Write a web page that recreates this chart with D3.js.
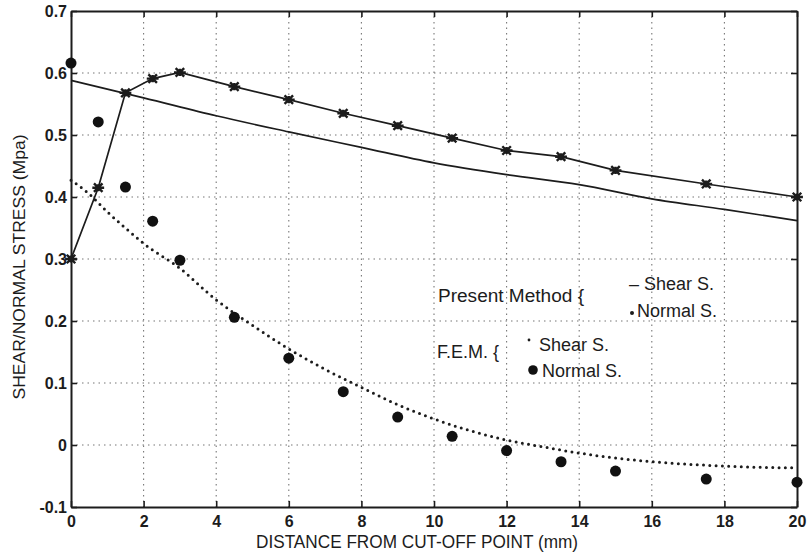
<!DOCTYPE html>
<html>
<head>
<meta charset="utf-8">
<script src="https://cdn.jsdelivr.net/npm/d3@7"></script>
<style>
  body { margin: 0; background: #fff; }
  text { font-family: "Liberation Sans", Arial, sans-serif; fill: #1c1c1c; }
</style>
</head>
<body>
<svg id="chart"></svg>
<script>
// values
const xTicks = [0, 2, 4, 6, 8, 10, 12, 14, 16, 18, 20];
const yTicks = [-0.1, 0, 0.1, 0.2, 0.3, 0.4, 0.5, 0.6, 0.7];
const yTickLabels = ["-0.1", "0", "0.1", "0.2", "0.3", "0.4", "0.5", "0.6", "0.7"];

// present method, shear stress (solid line)
const presentShearX = [0, 2, 4, 6, 8, 10, 12, 14, 16, 18, 20];
const presentShearY = [0.588, 0.56, 0.531, 0.505, 0.48, 0.455, 0.436, 0.42, 0.397, 0.38, 0.362];

// present method, normal stress (dotted line)
const presentNormalX = [0, 0.5, 1, 1.5, 2, 3, 4, 5, 6, 7, 8, 9, 10, 11, 12, 13, 14, 15, 16, 17, 18, 19, 20];
const presentNormalY = [0.427, 0.405, 0.376, 0.35, 0.325, 0.285, 0.234, 0.193, 0.155, 0.122, 0.093, 0.065,
                        0.042, 0.023, 0.008, -0.003, -0.013, -0.021, -0.027, -0.031, -0.034, -0.036, -0.037];

// F.E.M. sample points
const femX = [0, 0.75, 1.5, 2.25, 3, 4.5, 6, 7.5, 9, 10.5, 12, 13.5, 15, 17.5, 20];
const femShearY = [0.3, 0.415, 0.568, 0.591, 0.601, 0.578, 0.557, 0.535, 0.515, 0.495, 0.475, 0.465, 0.443, 0.421, 0.4];
const femNormalY = [0.616, 0.521, 0.416, 0.361, 0.298, 0.206, 0.14, 0.086, 0.045, 0.014, -0.009, -0.027, -0.042, -0.055, -0.06];

const W = 812, H = 552;
const svg = d3.select("#chart").attr("width", W).attr("height", H);

const x = d3.scaleLinear().domain([0, 20]).range([71, 797]);
const y = d3.scaleLinear().domain([-0.1, 0.7]).range([507, 11]);

const ink = "#1c1c1c";

// dotted grid
const grid = svg.append("g");
grid.selectAll(".gx").data(xTicks.slice(1, -1)).join("line")
  .attr("x1", d => x(d)).attr("x2", d => x(d))
  .attr("y1", y(0.7)).attr("y2", y(-0.1))
  .attr("stroke", "#777").attr("stroke-width", 1.1).attr("stroke-dasharray", "1.5,4");
grid.selectAll(".gy").data(yTicks.slice(1, -1)).join("line")
  .attr("x1", x(0)).attr("x2", x(20))
  .attr("y1", d => y(d)).attr("y2", d => y(d))
  .attr("stroke", "#777").attr("stroke-width", 1.1).attr("stroke-dasharray", "1.5,4");

// axes, ticks pointing inward
function styleAxis(g) {
  g.selectAll(".domain").attr("stroke", ink).attr("stroke-width", 2);
  g.selectAll(".tick line").attr("stroke", ink).attr("stroke-width", 1.6);
  g.selectAll(".tick text").style("font-size", "16px").style("font-weight", "bold").attr("fill", ink);
}
svg.append("g").attr("transform", `translate(0,${y(-0.1)})`)
  .call(d3.axisBottom(x).tickValues(xTicks).tickSizeInner(-6).tickSizeOuter(0).tickPadding(9).tickFormat(d3.format("d")))
  .call(styleAxis);
svg.append("g").attr("transform", `translate(0,${y(0.7)})`)
  .call(d3.axisTop(x).tickValues(xTicks).tickSizeInner(-6).tickSizeOuter(0).tickFormat(""))
  .call(styleAxis);
svg.append("g").attr("transform", `translate(${x(0)},0)`)
  .call(d3.axisLeft(y).tickValues(yTicks).tickSizeInner(-6).tickSizeOuter(0).tickPadding(4)
    .tickFormat((d, i) => yTickLabels[i]))
  .call(styleAxis);
svg.append("g").attr("transform", `translate(${x(20)},0)`)
  .call(d3.axisRight(y).tickValues(yTicks).tickSizeInner(-6).tickSizeOuter(0).tickFormat(""))
  .call(styleAxis);

// axis titles
svg.append("text").attr("x", 417).attr("y", 548).attr("text-anchor", "middle")
  .style("font-size", "18px").attr("textLength", 322).attr("lengthAdjust", "spacingAndGlyphs")
  .text("DISTANCE FROM CUT-OFF POINT (mm)");
svg.append("text").attr("transform", "translate(25,267) rotate(-90)").attr("text-anchor", "middle")
  .style("font-size", "17px").attr("textLength", 265).attr("lengthAdjust", "spacingAndGlyphs")
  .text("SHEAR/NORMAL STRESS (Mpa)");

const line = d3.line().x(d => x(d[0])).y(d => y(d[1]));

// present method lines
svg.append("path").datum(d3.zip(presentShearX, presentShearY))
  .attr("d", line.curve(d3.curveMonotoneX)).attr("fill", "none").attr("stroke", ink).attr("stroke-width", 1.7);
svg.append("path").datum(d3.zip(presentNormalX, presentNormalY))
  .attr("d", line.curve(d3.curveMonotoneX)).attr("fill", "none").attr("stroke", ink)
  .attr("stroke-width", 3).attr("stroke-linecap", "round").attr("stroke-dasharray", "0,6.3");

// F.E.M. shear: line through asterisks
svg.append("path").datum(d3.zip(femX, femShearY))
  .attr("d", line.curve(d3.curveLinear)).attr("fill", "none").attr("stroke", ink).attr("stroke-width", 1.7);

const asterisk = {
  draw(ctx, size) {
    const r = Math.sqrt(size) / 2, k = r * 0.72;
    ctx.moveTo(-r, 0); ctx.lineTo(r, 0);
    ctx.moveTo(0, -r * 0.6); ctx.lineTo(0, r * 0.6);
    ctx.moveTo(-k, -k); ctx.lineTo(k, k);
    ctx.moveTo(-k, k); ctx.lineTo(k, -k);
  }
};
svg.append("g").selectAll("path").data(d3.zip(femX, femShearY)).join("path")
  .attr("transform", d => `translate(${x(d[0])},${y(d[1])})`)
  .attr("d", d3.symbol().type(asterisk).size(140))
  .attr("fill", "none").attr("stroke", ink).attr("stroke-width", 2.4);

// F.E.M. normal: filled dots
svg.append("g").selectAll("circle").data(d3.zip(femX, femNormalY)).join("circle")
  .attr("cx", d => x(d[0])).attr("cy", d => y(d[1])).attr("r", 5.5).attr("fill", "#111");

// legend
const lg = svg.append("g").style("font-size", "18px");
lg.append("text").attr("x", 438).attr("y", 302).attr("textLength", 146).attr("lengthAdjust", "spacingAndGlyphs").text("Present Method {");
lg.append("text").attr("x", 629).attr("y", 290).text("– Shear S.");
lg.append("circle").attr("cx", 632).attr("cy", 313).attr("r", 2).attr("fill", ink);
lg.append("text").attr("x", 637).attr("y", 317).text("Normal S.");
lg.append("text").attr("x", 437).attr("y", 358).text("F.E.M. {");
lg.append("circle").attr("cx", 529).attr("cy", 340).attr("r", 1.4).attr("fill", ink);
lg.append("text").attr("x", 539).attr("y", 351).text("Shear S.");
lg.append("circle").attr("cx", 533).attr("cy", 370).attr("r", 4.8).attr("fill", "#111");
lg.append("text").attr("x", 542).attr("y", 377).text("Normal S.");
</script>
</body>
</html>
